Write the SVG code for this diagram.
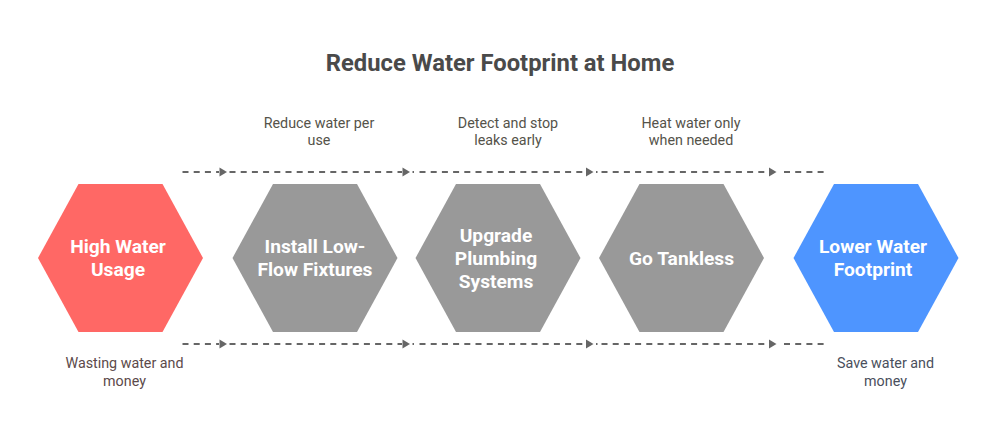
<svg xmlns="http://www.w3.org/2000/svg" width="1000" height="447" viewBox="0 0 1000 447">
<style>
text{font-family:Roboto,"Liberation Sans",sans-serif;text-anchor:middle}
.title{font-size:23.800px;font-weight:700;fill:#4a4a4a}
.node{font-size:19.200px;font-weight:700;fill:#fff}
.cap{font-size:14.300px}
.line{fill:none;stroke:#666;stroke-width:1.800;stroke-dasharray:6 5.200}
.dot{fill:none;stroke:#666;stroke-width:1.800}
.head{fill:#666}
</style>
<defs>
<polygon id="hex" points="-82.500,0 -42,-74 42,-74 82.500,0 42,74 -42,74"/>
<polygon id="arrow" points="0,-4.500 7.500,0 0,4.500"/>
<g id="rail">
<path class="line" d="M182.500 0H219"/>
<path class="line" d="M229.500 0H402"/>
<path class="dot" d="M412.500 0H414"/>
<path class="line" d="M419.500 0H586"/>
<path class="dot" d="M596 0H597.500"/>
<path class="line" d="M601.500 0H769"/>
<path class="line" d="M784 0H826"/>
<use href="#arrow" class="head" x="219.500"/>
<use href="#arrow" class="head" x="402.500"/>
<use href="#arrow" class="head" x="586"/>
<use href="#arrow" class="head" x="769"/>
</g>
</defs>
<rect width="1000" height="447" fill="#fff"/>
<text class="title" x="500" y="71">Reduce Water Footprint at Home</text>
<g id="connectors">
<use href="#rail" y="172"/>
<use href="#rail" y="344"/>
</g>
<g id="node-high-water-usage">
<use href="#hex" x="120.500" y="258" fill="#ff6865"/>
<text class="node" x="118" y="253">High Water</text>
<text class="node" x="118" y="276">Usage</text>
<text class="cap" x="124.500" y="368" fill="#5c4a4a">Wasting water and</text>
<text class="cap" x="124.500" y="386" fill="#5c4a4a">money</text>
</g>
<g id="node-install-low-flow-fixtures">
<use href="#hex" x="315" y="258" fill="#999"/>
<text class="node" x="315" y="253">Install Low-</text>
<text class="node" x="315" y="276">Flow Fixtures</text>
<text class="cap" x="319" y="128" fill="#55534a">Reduce water per</text>
<text class="cap" x="319" y="145" fill="#55534a">use</text>
</g>
<g id="node-upgrade-plumbing-systems">
<use href="#hex" x="498" y="258" fill="#999"/>
<text class="node" x="496" y="242">Upgrade</text>
<text class="node" x="496" y="265">Plumbing</text>
<text class="node" x="496" y="288">Systems</text>
<text class="cap" x="508" y="128" fill="#55534a">Detect and stop</text>
<text class="cap" x="508" y="145" fill="#55534a">leaks early</text>
</g>
<g id="node-go-tankless">
<use href="#hex" x="681.500" y="258" fill="#999"/>
<text class="node" x="681.500" y="265">Go Tankless</text>
<text class="cap" x="691" y="128" fill="#55534a">Heat water only</text>
<text class="cap" x="691" y="145" fill="#55534a">when needed</text>
</g>
<g id="node-lower-water-footprint">
<use href="#hex" x="876" y="258" fill="#4e95ff"/>
<text class="node" x="873" y="253">Lower Water</text>
<text class="node" x="873" y="276">Footprint</text>
<text class="cap" x="885.500" y="368" fill="#4a4f5c">Save water and</text>
<text class="cap" x="885.500" y="386" fill="#4a4f5c">money</text>
</g>
</svg>
